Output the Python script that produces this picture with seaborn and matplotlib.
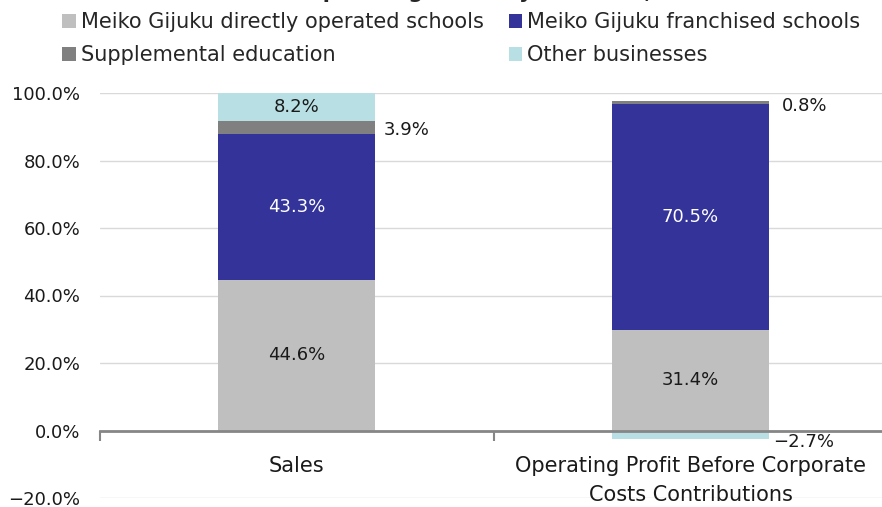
import numpy as np
import pandas as pd
import matplotlib
matplotlib.use("Agg")
import matplotlib.pyplot as plt
from matplotlib.patches import Patch
import seaborn as sns

# categories on the x axis
categories = ["Sales", "Operating Profit Before Corporate\nCosts Contributions"]

# segment names (legend) and colours
segments = ["Meiko Gijuku directly operated schools",
            "Meiko Gijuku franchised schools",
            "Supplemental education",
            "Other businesses"]
colors = ["#bfbfbf", "#333399", "#808080", "#b8dfe3"]

# bar heights as drawn in the chart (%)
directly_heights = [44.6, 29.8]
franchised_heights = [43.3, 66.9]
supplemental_heights = [3.9, 0.8]
other_heights = [8.2, -2.6]

# values printed as labels (%)
directly_labels = [44.6, 31.4]
franchised_labels = [43.3, 70.5]
supplemental_labels = [3.9, 0.8]
other_labels = [8.2, -2.7]

yticks = [-20, 0, 20, 40, 60, 80, 100]

sns.set_style("white")
plt.rcParams["font.family"] = ["DejaVu Sans"]
plt.rcParams["axes.unicode_minus"] = True

fig = plt.figure(figsize=(8.82, 5.07), dpi=100)
ax = fig.add_axes([99.5 / 882, 9 / 507, 788 / 882, 405 / 507])

heights = [directly_heights, franchised_heights, supplemental_heights, other_heights]
labels = [directly_labels, franchised_labels, supplemental_labels, other_labels]

pos_base = np.zeros(len(categories))
neg_base = np.zeros(len(categories))
bottoms = []
for h in heights:
    h = np.array(h, dtype=float)
    b = np.where(h >= 0, pos_base, neg_base)
    bottoms.append(b)
    pos_base = pos_base + np.where(h >= 0, h, 0)
    neg_base = neg_base + np.where(h < 0, h, 0)

for h, b, c in zip(heights, bottoms, colors):
    df = pd.DataFrame({"category": categories, "value": h})
    sns.barplot(data=df, x="category", y="value", order=categories, bottom=b,
                color=c, width=0.4, errorbar=None, ax=ax, zorder=3,
                linewidth=0, saturation=1)

def pct(v):
    return f"{v:.1f}%".replace("-", "\u2212")

# segment labels
fs = 13
for i in range(len(categories)):
    ax.text(i, bottoms[0][i] + heights[0][i] / 2, pct(labels[0][i]),
            ha="center", va="center", fontsize=fs, color="#1a1a1a", zorder=5)
    ax.text(i, bottoms[1][i] + heights[1][i] / 2, pct(labels[1][i]),
            ha="center", va="center", fontsize=fs, color="white", zorder=5)
# supplemental: outside right of the bar
for i, dx in zip(range(len(categories)), [8, 13]):
    ax.annotate(pct(labels[2][i]), (i + 0.2, bottoms[2][i] + heights[2][i] / 2),
                xytext=(dx, -3), textcoords="offset pixels", ha="left", va="center",
                fontsize=fs, color="#1a1a1a", zorder=5)
# other businesses
ax.text(0, bottoms[3][0] + heights[3][0] / 2, pct(labels[3][0]),
        ha="center", va="center", fontsize=fs, color="#1a1a1a", zorder=5)
ax.annotate(pct(labels[3][1]), (1.2, bottoms[3][1] + heights[3][1]),
            xytext=(4, -3), textcoords="offset pixels", ha="left", va="center",
            fontsize=fs, color="#1a1a1a", zorder=5)

ax.set_ylim(-20, 100)
ax.set_xlim(-0.5, 1.5)
ax.set_yticks(yticks)
ax.set_yticklabels([pct(v) for v in yticks], fontsize=fs)
ax.yaxis.grid(True, color="#d9d9d9", linewidth=1, zorder=0)
ax.set_axisbelow(True)
ax.tick_params(axis="y", length=0, pad=14, colors="#1a1a1a")

# ticks between categories, category names written below the zero line
ax.set_xticks([-0.5, 0.5, 1.5])
ax.set_xticklabels(["", "", ""])
ax.tick_params(axis="x", which="major", bottom=True, length=7, width=1.5,
               color="#868686", direction="out")
ax.set_xlabel("")
ax.set_ylabel("")
for i, cat in enumerate(categories):
    ax.annotate(cat, (i, 0), xytext=(0, -25), textcoords="offset pixels",
                ha="center", va="top", fontsize=15, linespacing=1.6,
                color="#1a1a1a", annotation_clip=False)

for s in ["top", "right", "left"]:
    ax.spines[s].set_visible(False)
ax.spines["bottom"].set_position(("data", 0))
ax.spines["bottom"].set_color("#868686")
ax.spines["bottom"].set_linewidth(2)
ax.spines["bottom"].set_zorder(4)

# legend (two columns)
order = [0, 2, 1, 3]
handles = [Patch(facecolor=colors[k], edgecolor="none") for k in order]
fig.legend(handles, [segments[k] for k in order], ncol=2, loc="upper left",
           bbox_to_anchor=(62 / 882, 1 - 12 / 507), frameon=False, fontsize=15,
           handlelength=0.65, handleheight=0.65, handletextpad=0.25,
           columnspacing=1.2, labelspacing=0.62, borderaxespad=0, borderpad=0)

# title, mostly above the visible area
fig.text(0.528, 1.0 + 2 / 507, "Sales and Operating Profit by Business, FY2024",
         ha="center", va="baseline", fontsize=15, fontweight="bold")

fig.savefig("out.png", dpi=100)
